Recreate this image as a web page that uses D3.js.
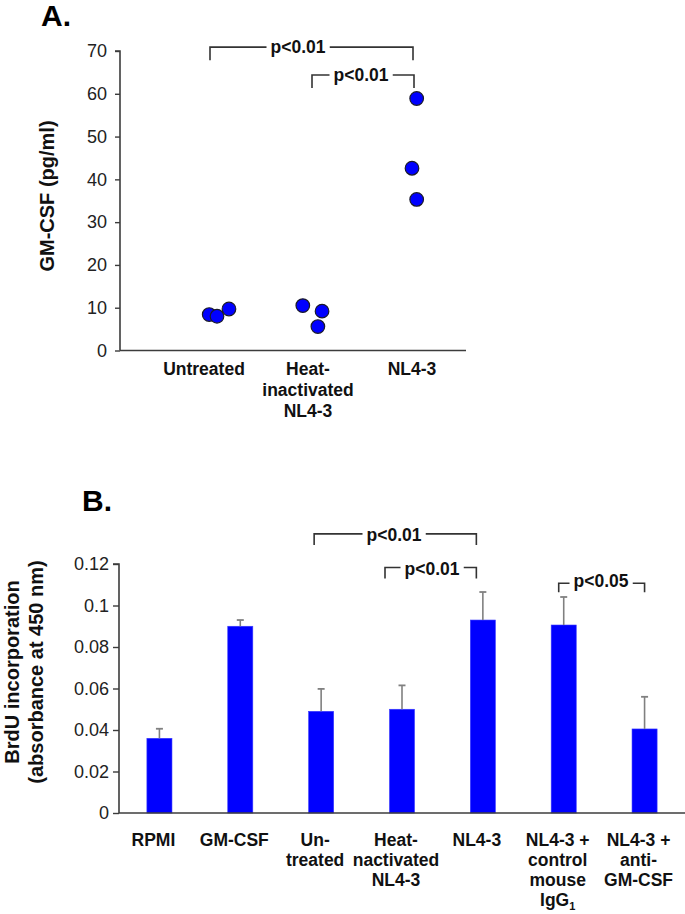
<!DOCTYPE html>
<html>
<head>
<meta charset="utf-8">
<script src="https://cdn.jsdelivr.net/npm/d3@7"></script>
<style>
  html, body { margin: 0; padding: 0; background: #fff; }
  svg { display: block; font-family: "Liberation Sans", Arial, sans-serif; }
</style>
</head>
<body>
<svg id="chart" width="685" height="914"></svg>
<script>
// ---------- Panel A data ----------
const aCategories = ["Untreated", "Heat-inactivated NL4-3", "NL4-3"];
const aLabelLines = [["Untreated"], ["Heat-", "inactivated", "NL4-3"], ["NL4-3"]];
const aValues = [[8.4, 8.0, 9.7], [10.5, 9.2, 5.6], [58.9, 42.6, 35.3]];
const aJitter = [[0.05, 0.125, 0.24], [-0.05, 0.135, 0.095], [0.045, 0.0, 0.045]];
const aTicks = [0, 10, 20, 30, 40, 50, 60, 70];
const aYTitle = "GM-CSF (pg/ml)";
const aBrackets = [
  { from: 0, to: 2, label: "p<0.01", level: 70.9 },
  { from: 1, to: 2, label: "p<0.01", level: 64.4 }
];

// ---------- Panel B data ----------
const bCategories = ["RPMI", "GM-CSF", "Untreated", "Heat-inactivated NL4-3", "NL4-3",
                     "NL4-3 + control mouse IgG1", "NL4-3 + anti-GM-CSF"];
const bLabelLines = [["RPMI"], ["GM-CSF"], ["Un-", "treated"], ["Heat-", "nactivated", "NL4-3"],
                     ["NL4-3"], ["NL4-3 +", "control", "mouse", "IgG_1"], ["NL4-3 +", "anti-", "GM-CSF"]];
const bMeans  = [0.036, 0.090, 0.049, 0.050, 0.093, 0.0906, 0.0405];
const bErrors = [0.0046, 0.003, 0.0108, 0.0115, 0.0135, 0.0135, 0.0155];
const bTicks = [0, 0.02, 0.04, 0.06, 0.08, 0.1, 0.12];
const bTickLabels = ["0", "0.02", "0.04", "0.06", "0.08", "0.1", "0.12"];
const bYTitle = ["BrdU incorporation", "(absorbance at 450 nm)"];
const bBrackets = [
  { from: 2, to: 4, label: "p<0.01", level: 0.1345 },
  { from: 3, to: 4, label: "p<0.01", level: 0.1183 },
  { from: 5, to: 6, label: "p<0.05", level: 0.1107 }
];

const svg = d3.select("#chart");
const AXIS = "#3c3c3c";
const BLUE = "#0000ff";
const FONT = "'Liberation Sans', Arial, sans-serif";

function drawBracket(g, x1, x2, y, tickLen, label, textCx, baselineDy, fs) {
  const t = g.append("text")
    .attr("x", textCx).attr("y", y + baselineDy)
    .attr("text-anchor", "middle")
    .attr("font-weight", "bold").attr("font-size", fs)
    .attr("fill", "#111").text(label);
  const bb = t.node().getBBox();
  const pad = 4;
  const path = d3.path();
  path.moveTo(x1, y + tickLen); path.lineTo(x1, y); path.lineTo(bb.x - pad, y);
  path.moveTo(bb.x + bb.width + pad, y); path.lineTo(x2, y); path.lineTo(x2, y + tickLen);
  g.append("path").attr("d", path.toString())
    .attr("fill", "none").attr("stroke", "#333").attr("stroke-width", 1.6);
}

// ================= PANEL A =================
{
  const g = svg.append("g");
  const y = d3.scaleLinear().domain([0, 70]).range([350.5, 51]);
  const x = d3.scalePoint().domain(aCategories).range([204, 412]);
  const step = x.step();
  const xLeft = 120, xRight = 466;

  g.append("text").attr("x", 41).attr("y", 26)
    .attr("font-size", 30).attr("font-weight", "bold").attr("fill", "#000").text("A.");

  // y axis
  const yAxis = d3.axisLeft(y).tickValues(aTicks).tickSize(5).tickPadding(8).tickFormat(d3.format("d"));
  const ya = g.append("g").attr("transform", `translate(${xLeft},0)`).call(yAxis);
  ya.select(".domain").attr("stroke", AXIS).attr("stroke-width", 1.6).attr("d", `M-5,${y(70)}H0V${y(0)}`);
  ya.selectAll(".tick line").attr("stroke", AXIS).attr("stroke-width", 1.4);
  ya.selectAll(".tick text").attr("font-size", 18).attr("font-family", FONT).attr("fill", "#222");

  // x axis line
  g.append("line").attr("x1", xLeft).attr("x2", xRight).attr("y1", y(0)).attr("y2", y(0))
    .attr("stroke", AXIS).attr("stroke-width", 1.6);

  // x labels
  aCategories.forEach((c, i) => {
    const t = g.append("text").attr("text-anchor", "middle")
      .attr("font-size", 17.5).attr("font-weight", "bold").attr("fill", "#111");
    aLabelLines[i].forEach((ln, j) => {
      t.append("tspan").attr("x", x(c)).attr("y", 374.5 + j * 21).text(ln);
    });
  });

  // y title
  g.append("text").attr("transform", `translate(54,196) rotate(-90)`)
    .attr("text-anchor", "middle").attr("font-size", 20).attr("font-weight", "bold")
    .attr("fill", "#111").text(aYTitle);

  // points
  const pts = [];
  aCategories.forEach((c, i) => aValues[i].forEach((v, j) => pts.push({ c, v, dx: aJitter[i][j] })));
  g.selectAll("circle.pt").data(pts).join("circle").attr("class", "pt")
    .attr("cx", d => x(d.c) + d.dx * step).attr("cy", d => y(d.v)).attr("r", 6.8)
    .attr("fill", BLUE).attr("stroke", "#1a1a2a").attr("stroke-width", 1.2);

  // brackets
  const bx = i => x(aCategories[i]);
  drawBracket(g, bx(0) + 6, bx(2) + 1, y(aBrackets[0].level), 13, aBrackets[0].label, 298, 6, 17.5);
  drawBracket(g, bx(1) + 4, bx(2) + 2, y(aBrackets[1].level), 13, aBrackets[1].label, 361, 6, 17.5);
}

// ================= PANEL B =================
{
  const g = svg.append("g");
  const y = d3.scaleLinear().domain([0, 0.12]).range([813, 564]);
  const x = d3.scaleBand().domain(bCategories).range([119, 685]).paddingInner(0.69).paddingOuter(0.345);
  const cx = i => x(bCategories[i]) + x.bandwidth() / 2;

  g.append("text").attr("x", 82).attr("y", 511)
    .attr("font-size", 30).attr("font-weight", "bold").attr("fill", "#000").text("B.");

  // y axis
  const yAxis = d3.axisLeft(y).tickValues(bTicks).tickSize(6).tickPadding(4)
    .tickFormat((d, i) => bTickLabels[i]);
  const ya = g.append("g").attr("transform", "translate(119,0)").call(yAxis);
  ya.select(".domain").attr("stroke", AXIS).attr("stroke-width", 1.6).attr("d", `M-6,${y(0.12)}H0V${y(0)}`);
  ya.selectAll(".tick line").attr("stroke", AXIS).attr("stroke-width", 1.4);
  ya.selectAll(".tick text").attr("font-size", 18).attr("font-family", FONT).attr("fill", "#222");

  // bars
  g.selectAll("rect.bar").data(bMeans).join("rect").attr("class", "bar")
    .attr("x", (d, i) => x(bCategories[i])).attr("width", x.bandwidth())
    .attr("y", d => y(d)).attr("height", d => y(0) - y(d))
    .attr("fill", BLUE).attr("stroke", "#3a3aff").attr("stroke-width", 0.6);

  // error bars
  const eb = g.selectAll("g.err").data(bMeans).join("g").attr("class", "err");
  eb.append("line").attr("x1", (d, i) => cx(i)).attr("x2", (d, i) => cx(i))
    .attr("y1", d => y(d)).attr("y2", (d, i) => y(d + bErrors[i]))
    .attr("stroke", "#808080").attr("stroke-width", 1.6);
  eb.append("line").attr("x1", (d, i) => cx(i) - 3.5).attr("x2", (d, i) => cx(i) + 3.5)
    .attr("y1", (d, i) => y(d + bErrors[i])).attr("y2", (d, i) => y(d + bErrors[i]))
    .attr("stroke", "#808080").attr("stroke-width", 1.8);

  // x axis
  g.append("line").attr("x1", 119).attr("x2", 685).attr("y1", y(0)).attr("y2", y(0))
    .attr("stroke", AXIS).attr("stroke-width", 1.6);

  // x labels
  bCategories.forEach((c, i) => {
    const t = g.append("text").attr("text-anchor", "middle")
      .attr("font-size", 17.5).attr("font-weight", "bold").attr("fill", "#111");
    bLabelLines[i].forEach((ln, j) => {
      const ts = t.append("tspan").attr("x", cx(i) - 6).attr("y", 846 + j * 20);
      if (ln.includes("_")) {
        const [main, sub] = ln.split("_");
        ts.text(main);
        t.append("tspan").attr("dy", 3.5).attr("font-size", 11).text(sub);
      } else ts.text(ln);
    });
  });

  // y title (two lines)
  const yt = g.append("text").attr("transform", "translate(0,672) rotate(-90)")
    .attr("text-anchor", "middle").attr("font-size", 20).attr("font-weight", "bold").attr("fill", "#111");
  yt.append("tspan").attr("x", 0).attr("y", 19).text(bYTitle[0]);
  yt.append("tspan").attr("x", 0).attr("y", 43).text(bYTitle[1]);

  // brackets
  drawBracket(g, cx(2) - 7, cx(4) - 6.5, y(bBrackets[0].level), 11, bBrackets[0].label, 394, 7, 17.5);
  drawBracket(g, cx(3) - 17, cx(4) - 6.5, y(bBrackets[1].level), 11, bBrackets[1].label, 432, 7, 17.5);
  drawBracket(g, cx(5) - 5, cx(6), y(bBrackets[2].level), 9, bBrackets[2].label, 601, 4, 17.5);
}
</script>
</body>
</html>
